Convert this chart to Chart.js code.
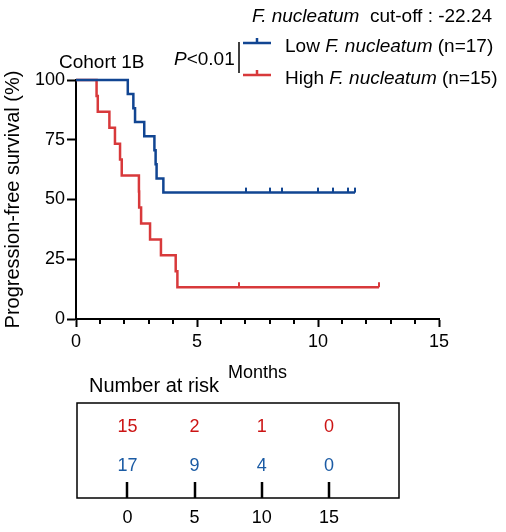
<!DOCTYPE html>
<html>
<head>
<meta charset="utf-8">
<title>Cohort 1B - progression-free survival</title>
<script src="https://cdn.jsdelivr.net/npm/chart.js@4.4.1/dist/chart.umd.min.js"></script>
<style>
  html, body { margin: 0; padding: 0; background: #fff; }
  #wrap { position: relative; width: 506px; height: 532px; }
  #km-chart { position: absolute; left: 0; top: 0; }
  #risk-chart { position: absolute; left: 0; top: 370px; }
</style>
</head>
<body>
<div id="wrap">
  <canvas id="km-chart" width="506" height="388"></canvas>
  <canvas id="risk-chart" width="506" height="162"></canvas>
</div>
<script>
// Kaplan-Meier plot + number-at-risk table, two Chart.js charts stacked.

// --- data ---

// Low F. nucleatum: event times (months) and survival (%) after each event
const lowTimes = [0, 2.14, 2.37, 2.44, 2.82, 3.24, 3.29, 3.33, 3.61, 11.53];
const lowSurvival = [100, 94.1, 88.2, 82.4, 76.5, 70.6, 64.7, 58.8, 52.9, 52.9];
const lowCensorTimes = [7.02, 8.02, 8.51, 10.01, 10.62, 11.23, 11.53];

// High F. nucleatum
const highTimes = [0, 0.85, 0.9, 1.38, 1.61, 1.82, 1.89, 2.6, 2.61, 2.69, 3.06, 3.51, 4.12, 4.19, 12.52];
const highSurvival = [100, 93.3, 86.7, 80, 73.3, 66.7, 60, 53.3, 46.7, 40, 33.3, 26.7, 20, 13.3, 13.3];
const highCensorTimes = [6.72, 12.52];

const xTickValues = [0, 5, 10, 15];
const yTickValues = [0, 25, 50, 75, 100];

// number at risk
const riskTimes = [0, 5, 10, 15];
const riskHigh = [15, 2, 1, 0];
const riskLow = [17, 9, 4, 0];

const legendLabels = ["Low ", "High "];
const legendCounts = [" (n=17)", " (n=15)"];

// --- styles ---

const FONT = "Arial, 'Liberation Sans', sans-serif";
const BLUE = "#114592";
const RED = "#d8393b";
const TABLE_RED = "#cc1414";
const TABLE_BLUE = "#1b5ba4";

Chart.defaults.font.family = FONT;
Chart.defaults.color = "#000";

// --- helpers ---

function km_points(times, values) {
  return times.map(function (t, i) {
    return { x: t, y: values[i] };
  });
}

// survival value of the step curve at time t
function km_valueAt(times, values, t) {
  let v = values[0];
  for (let i = 0; i < times.length; i++) {
    if (times[i] <= t) v = values[i];
  }
  return v;
}

function km_censorPoints(censorTimes, times, values) {
  return censorTimes.map(function (t) {
    return { x: t, y: km_valueAt(times, values, t) };
  });
}

// little upward tick used as censor mark
function makeCensorMark(colour) {
  const c = document.createElement("canvas");
  c.width = 2;
  c.height = 12;
  const g = c.getContext("2d");
  g.fillStyle = colour;
  g.fillRect(0, 1, 2, 5);
  return c;
}

function drawRuns(ctx, runs, x, y) {
  // runs: [[text, italic], ...] drawn left to right on one baseline
  runs.forEach(function (r) {
    ctx.font = (r[1] ? "italic " : "") + "19px " + FONT;
    ctx.fillText(r[0], x, y);
    x += ctx.measureText(r[0]).width;
  });
}

// --- main chart plugin: header, legend, minor ticks ---

const kmDecor = {
  id: "kmDecor",
  afterDraw: function (chart) {
    const ctx = chart.ctx;
    const xs = chart.scales.x;
    ctx.save();

    // minor ticks every month
    ctx.strokeStyle = "#000";
    ctx.lineWidth = 2;
    for (let m = xs.min + 1; m < xs.max; m++) {
      if (xTickValues.indexOf(m) !== -1) continue;
      const px = Math.round(xs.getPixelForValue(m));
      ctx.beginPath();
      ctx.moveTo(px, xs.top);
      ctx.lineTo(px, xs.top + 5);
      ctx.stroke();
    }

    ctx.fillStyle = "#000";
    ctx.textAlign = "left";
    ctx.textBaseline = "alphabetic";
    drawRuns(ctx, [["F. nucleatum", true], ["  cut-off : -22.24", false]], 252, 21.5);
    drawRuns(ctx, [["Cohort 1B", false]], 59, 68);
    drawRuns(ctx, [["P", true], ["<0.01", false]], 174, 65);

    // bracket bar
    ctx.lineWidth = 1.5;
    ctx.beginPath();
    ctx.moveTo(239, 42);
    ctx.lineTo(239, 73);
    ctx.stroke();

    // legend entries
    const rows = [
      { colour: BLUE, y: 43 },
      { colour: RED, y: 75 },
    ];
    rows.forEach(function (row, i) {
      ctx.strokeStyle = row.colour;
      ctx.lineWidth = 2.5;
      ctx.beginPath();
      ctx.moveTo(243, row.y);
      ctx.lineTo(271, row.y);
      ctx.moveTo(257, row.y);
      ctx.lineTo(257, row.y - 5);
      ctx.stroke();
      ctx.fillStyle = "#000";
      drawRuns(ctx, [[legendLabels[i], false], ["F. nucleatum", true], [legendCounts[i], false]], 285, row.y + 8.5);
    });

    ctx.restore();
  },
};

// --- main chart ---

const kmChart = new Chart(document.getElementById("km-chart"), {
  type: "scatter",
  data: {
    datasets: [
      {
        label: "Low F. nucleatum",
        data: km_points(lowTimes, lowSurvival),
        showLine: true,
        stepped: true,
        borderColor: BLUE,
        borderWidth: 2.5,
        pointRadius: 0,
        clip: false,
      },
      {
        label: "High F. nucleatum",
        data: km_points(highTimes, highSurvival),
        showLine: true,
        stepped: true,
        borderColor: RED,
        borderWidth: 2.5,
        pointRadius: 0,
        clip: false,
      },
      {
        label: "Low censored",
        data: km_censorPoints(lowCensorTimes, lowTimes, lowSurvival),
        showLine: false,
        pointStyle: makeCensorMark(BLUE),
        pointRadius: 3,
        clip: false,
      },
      {
        label: "High censored",
        data: km_censorPoints(highCensorTimes, highTimes, highSurvival),
        showLine: false,
        pointStyle: makeCensorMark(RED),
        pointRadius: 3,
        clip: false,
      },
    ],
  },
  options: {
    responsive: false,
    animation: false,
    layout: { padding: { top: 80, right: 67, left: 0, bottom: 0 } },
    plugins: {
      legend: { display: false },
      tooltip: { enabled: false },
    },
    scales: {
      x: {
        type: "linear",
        min: 0,
        max: 15,
        afterBuildTicks: function (scale) {
          scale.ticks = xTickValues.map(function (v) { return { value: v }; });
        },
        afterFit: function (scale) { scale.height = 69; },
        grid: {
          drawOnChartArea: false,
          drawTicks: true,
          tickLength: 8,
          tickWidth: 2,
          tickColor: "#000",
        },
        border: { color: "#000", width: 2 },
        ticks: { font: { size: 18 }, padding: 4, maxRotation: 0 },
        title: {
          display: true,
          text: "Months",
          font: { size: 18 },
          padding: { top: 4, bottom: 4 },
        },
      },
      y: {
        type: "linear",
        min: 0,
        max: 100,
        afterBuildTicks: function (scale) {
          scale.ticks = yTickValues.map(function (v) { return { value: v }; });
        },
        afterFit: function (scale) { scale.width = 76; },
        grid: {
          drawOnChartArea: false,
          drawTicks: true,
          tickLength: 9,
          tickWidth: 2,
          tickColor: "#000",
        },
        border: { color: "#000", width: 2 },
        ticks: { font: { size: 18 }, padding: 2 },
        title: {
          display: true,
          text: "Progression-free survival (%)",
          font: { size: 20 },
          padding: { top: 1, bottom: 4 },
        },
      },
    },
  },
  plugins: [kmDecor],
});

// --- number at risk table ---

const ROW_HIGH = 0.75;
const ROW_LOW = 0.34;

const riskDecor = {
  id: "riskDecor",
  afterDraw: function (chart) {
    const ctx = chart.ctx;
    const area = chart.chartArea;
    const xs = chart.scales.x;
    ctx.save();

    ctx.strokeStyle = "#000";
    ctx.lineWidth = 1.5;
    ctx.strokeRect(area.left, area.top, area.right - area.left, area.bottom - area.top);

    ctx.lineWidth = 2.5;
    riskTimes.forEach(function (t) {
      const px = Math.round(xs.getPixelForValue(t));
      ctx.beginPath();
      ctx.moveTo(px, area.bottom);
      ctx.lineTo(px, area.bottom - 16);
      ctx.stroke();
    });

    ctx.textAlign = "center";
    ctx.textBaseline = "middle";
    ctx.font = "18px " + FONT;
    chart.data.datasets.forEach(function (ds, di) {
      const meta = chart.getDatasetMeta(di);
      ctx.fillStyle = ds.textColour;
      meta.data.forEach(function (pt, i) {
        ctx.fillText(String(ds.riskValues[i]), pt.x, pt.y);
      });
    });

    ctx.fillStyle = "#000";
    ctx.textAlign = "left";
    ctx.textBaseline = "alphabetic";
    ctx.font = "20px " + FONT;
    ctx.fillText("Number at risk", 89, 22);

    ctx.restore();
  },
};

const riskChart = new Chart(document.getElementById("risk-chart"), {
  type: "scatter",
  data: {
    datasets: [
      {
        label: "High",
        data: riskTimes.map(function (t) { return { x: t, y: ROW_HIGH }; }),
        riskValues: riskHigh,
        textColour: TABLE_RED,
        pointRadius: 0,
      },
      {
        label: "Low",
        data: riskTimes.map(function (t) { return { x: t, y: ROW_LOW }; }),
        riskValues: riskLow,
        textColour: TABLE_BLUE,
        pointRadius: 0,
      },
    ],
  },
  options: {
    responsive: false,
    animation: false,
    layout: { padding: { top: 33, right: 107, left: 77, bottom: 0 } },
    plugins: {
      legend: { display: false },
      tooltip: { enabled: false },
    },
    scales: {
      x: {
        type: "linear",
        min: -3.76,
        max: 20.22,
        afterBuildTicks: function (scale) {
          scale.ticks = riskTimes.map(function (v) { return { value: v }; });
        },
        afterFit: function (scale) { scale.height = 34; },
        grid: { display: false, drawTicks: false },
        border: { display: false },
        ticks: { font: { size: 18 }, padding: 9, maxRotation: 0 },
      },
      y: { display: false, min: 0, max: 1 },
    },
  },
  plugins: [riskDecor],
});
</script>
</body>
</html>
